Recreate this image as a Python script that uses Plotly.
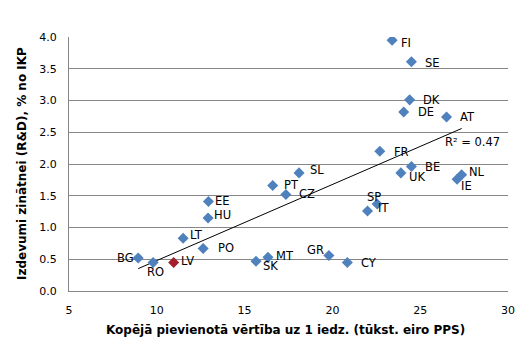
import numpy as np
import plotly.graph_objects as go

countries = ["FI","SE","DK","DE","AT","FR","BE","UK","NL","IE","SL","PT","CZ","SP","IT",
             "GR","CY","EE","HU","LT","PO","BG","RO","LV","SK","MT"]
gva = [23.4,24.5,24.4,24.06,26.5,22.7,24.5,23.9,27.36,27.1,18.1,16.6,17.35,22.55,22.0,
       19.8,20.85,12.94,12.92,11.5,12.64,8.94,9.79,10.96,15.65,16.33]
rd = [3.95,3.61,3.01,2.82,2.74,2.20,1.96,1.86,1.83,1.76,1.86,1.66,1.52,1.37,1.26,
      0.56,0.45,1.41,1.15,0.83,0.67,0.52,0.45,0.45,0.47,0.53]
highlight = "LV"
r2_text = "R² = 0.47"
x_title = "Kopējā pievienotā vērtība uz 1 iedz. (tūkst. eiro PPS)"
y_title = "Izdevumi zinātnei (R&D), % no IKP"

# label offsets (pixels) and anchors: (xshift, yshift, xanchor)
label_style = {
    "FI": (7, -3, "left"), "SE": (12, -1, "left"), "DK": (11, 0, "left"),
    "DE": (12, 0, "left"), "AT": (11, 0, "left"), "FR": (12, -1, "left"),
    "BE": (12, 0, "left"), "UK": (6, -4, "left"), "NL": (5, 3, "left"),
    "IE": (2, -7, "left"), "SL": (9, 3, "left"), "PT": (9, 1, "left"),
    "CZ": (11, 0, "left"), "SP": (-3, 7, "center"), "IT": (8, 3, "left"),
    "GR": (-3, 5, "right"), "CY": (12, -1, "left"), "EE": (5, 0, "left"),
    "HU": (4, 3, "left"), "LT": (5, 3, "left"), "PO": (13, 0, "left"),
    "BG": (-2, 0, "right"), "RO": (2, -10, "center"), "LV": (5, 1, "left"),
    "SK": (5, -5, "left"), "MT": (6, 1, "left"),
}

FONT = "DejaVu Sans"
blue = "#4F81BD"
red = "#A5202E"

colors = [red if c == highlight else blue for c in countries]

fig = go.Figure()

# trend line
coef = np.polyfit(gva, rd, 1)
xs = np.array([min(gva), max(gva)])
fig.add_trace(go.Scatter(x=xs, y=np.polyval(coef, xs), mode="lines",
                         line=dict(color="black", width=1), hoverinfo="skip",
                         showlegend=False))

fig.add_trace(go.Scatter(x=gva, y=rd, mode="markers",
                         marker=dict(symbol="diamond", size=8.5, color=colors,
                                     line=dict(width=0)),
                         showlegend=False))

for c, x, y in zip(countries, gva, rd):
    xs_, ys_, xa = label_style[c]
    fig.add_annotation(x=x, y=y, text=c, showarrow=False, xanchor=xa, yanchor="middle",
                       xshift=xs_, yshift=ys_, font=dict(family=FONT, size=11.5, color="black"))

fig.add_annotation(x=26.3, y=2.34, text=r2_text, showarrow=False, xanchor="left",
                   yanchor="middle", font=dict(family=FONT, size=11.5, color="black"))

# axis titles
fig.add_annotation(xref="paper", yref="paper", x=0.5, y=0, xanchor="center",
                   yanchor="middle", yshift=-39, xshift=-3, showarrow=False,
                   text="<b>" + x_title + "</b>",
                   font=dict(family=FONT, size=12, color="black"))
fig.add_annotation(xref="paper", yref="paper", x=0, y=0.5, xanchor="center",
                   yanchor="middle", xshift=-47, textangle=-90, showarrow=False,
                   text="<b>" + y_title + "</b>",
                   font=dict(family=FONT, size=12, color="black"))

fig.update_layout(
    width=527, height=346,
    margin=dict(l=69, r=16, t=37, b=55),
    paper_bgcolor="white", plot_bgcolor="white",
    font=dict(family=FONT, size=11, color="black"),
)
fig.update_xaxes(range=[5, 30], dtick=5, tick0=5, showgrid=False, zeroline=False,
                 showline=True, linecolor="#868686", linewidth=1,
                 tickfont=dict(family=FONT, size=11, color="black"),
                 ticks="", ticklabelstandoff=9)
fig.update_yaxes(range=[0, 4], dtick=0.5, tickformat=".1f", showgrid=True,
                 gridcolor="#868686", gridwidth=1, zeroline=False,
                 showline=True, linecolor="#868686", linewidth=1,
                 tickfont=dict(family=FONT, size=11, color="black"),
                 ticks="", ticklabelstandoff=9)

fig.write_html("out.html")
